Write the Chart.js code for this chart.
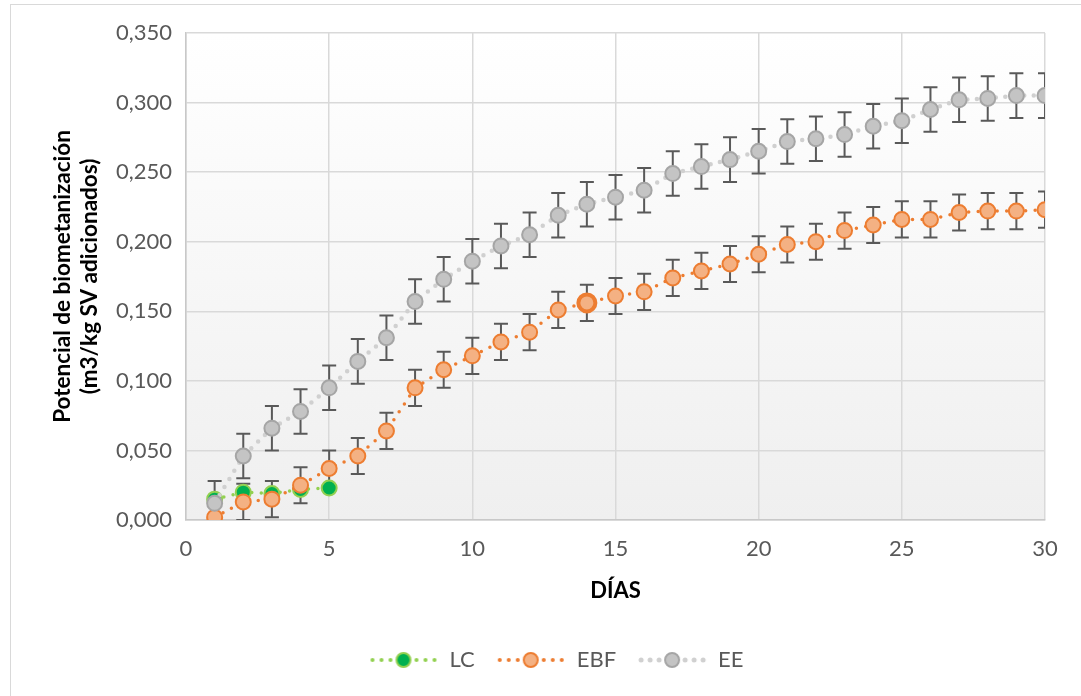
<!DOCTYPE html>
<html><head><meta charset="utf-8">
<script src="https://cdn.jsdelivr.net/npm/chart.js@4.4.1/dist/chart.umd.min.js"></script>
<style>
html,body{margin:0;padding:0;background:#fff;overflow:hidden;width:1081px;height:696px;}
#frame{position:absolute;left:10px;top:4px;width:1092px;height:700px;border:1px solid #d9d9d9;background:#fff;}
canvas{display:block;}
</style></head><body>
<div id="frame"><canvas id="c" width="1092" height="691" style="width:1092px;height:691px"></canvas></div>
<script>
// ---- data ----
const days = [1,2,3,4,5,6,7,8,9,10,11,12,13,14,15,16,17,18,19,20,21,22,23,24,25,26,27,28,29,30];
const lcDays = [1,2,3,4,5];
const lcValues = [0.015,0.020,0.019,0.022,0.023];
const ebfValues = [0.002,0.013,0.015,0.025,0.037,0.046,0.064,0.095,0.108,0.118,0.128,0.135,0.151,0.156,0.161,0.164,0.174,0.179,0.184,0.191,0.198,0.200,0.208,0.212,0.216,0.216,0.221,0.222,0.222,0.223];
const ebfErrors = [0.013,0.013,0.013,0.013,0.013,0.013,0.013,0.013,0.013,0.013,0.013,0.013,0.013,0.013,0.013,0.013,0.013,0.013,0.013,0.013,0.013,0.013,0.013,0.013,0.013,0.013,0.013,0.013,0.013,0.013];
const eeValues = [0.012,0.046,0.066,0.078,0.095,0.114,0.131,0.157,0.173,0.186,0.197,0.205,0.219,0.227,0.232,0.237,0.249,0.254,0.259,0.265,0.272,0.274,0.277,0.283,0.287,0.295,0.302,0.303,0.305,0.305];
const eeErrors = [0.016,0.016,0.016,0.016,0.016,0.016,0.016,0.016,0.016,0.016,0.016,0.016,0.016,0.016,0.016,0.016,0.016,0.016,0.016,0.016,0.016,0.016,0.016,0.016,0.016,0.016,0.016,0.016,0.016,0.016];
const seriesNames = ['LC','EBF','EE'];
const xTitle = 'DÍAS';
const yTitle = ['Potencial de biometanización','(m3/kg SV adicionados)'];
const xMin = 0, xMax = 30, xStep = 5;
const yMin = 0, yMax = 0.35, yStep = 0.05;

const toPts = (xs, ys) => xs.map((x,i)=>({x:x, y:ys[i]}));

// ---- legend images (dotted line + marker) ----
function legendImage(lineColor, fill, border, dotR) {
  const c = document.createElement('canvas');
  c.width = 70; c.height = 20;
  const g = c.getContext('2d');
  g.fillStyle = lineColor;
  [4,13,22,48,57,66].forEach(x=>{ g.beginPath(); g.arc(x,10,dotR,0,Math.PI*2); g.fill(); });
  g.beginPath(); g.arc(35,10,7,0,Math.PI*2);
  g.fillStyle = fill; g.fill();
  g.lineWidth = 2; g.strokeStyle = border; g.stroke();
  return c;
}
const legendImgs = [
  legendImage('#92D050','#00B050','#92D050',2),
  legendImage('#ED7D31','#F4B183','#ED7D31',2),
  legendImage('#D0D0D0','#C4C4C4','#A5A5A5',2.5)
];

// ---- plugins ----
const bgPlugin = {
  id: 'bg',
  beforeDraw(chart) {
    const {ctx, chartArea:a} = chart;
    const gr = ctx.createLinearGradient(0, a.top, 0, a.bottom);
    gr.addColorStop(0, '#ffffff');
    gr.addColorStop(1, '#efefef');
    ctx.save(); ctx.fillStyle = gr; ctx.fillRect(a.left, a.top, a.right-a.left, a.bottom-a.top); ctx.restore();
  }
};
const errPlugin = {
  id: 'errbars',
  beforeDatasetsDraw(chart) {
    const {ctx, chartArea:a, scales:{x, y}} = chart;
    ctx.save();
    ctx.beginPath(); ctx.rect(a.left, a.top, a.right-a.left, a.bottom-a.top); ctx.clip();
    ctx.strokeStyle = '#595959'; ctx.lineWidth = 2;
    chart.data.datasets.forEach(ds => {
      if (!ds.errors) return;
      ds.data.forEach((p, i) => {
        const e = ds.errors[i];
        const px = x.getPixelForValue(p.x);
        const y1 = y.getPixelForValue(p.y + e), y2 = y.getPixelForValue(p.y - e);
        ctx.beginPath();
        ctx.moveTo(px, y1); ctx.lineTo(px, y2);
        ctx.moveTo(px-7, y1); ctx.lineTo(px+7, y1);
        ctx.moveTo(px-7, y2); ctx.lineTo(px+7, y2);
        ctx.stroke();
      });
    });
    ctx.restore();
  }
};

const FONT = 'Lato, "Open Sans", sans-serif';
const lineStyle = {borderWidth:3.5, borderDash:[0,9.5], borderCapStyle:'round', tension:0, pointRadius:7.5, pointHoverRadius:7.5, pointBorderWidth:2, showLine:true};

new Chart(document.getElementById('c'), {
  type: 'line',
  data: {
    datasets: [
      Object.assign({label: seriesNames[0], data: toPts(lcDays, lcValues), borderColor:'#92D050', pointBackgroundColor:'#00B050', pointBorderColor:'#92D050', order:3}, lineStyle),
      Object.assign({label: seriesNames[1], data: toPts(days, ebfValues), errors: ebfErrors, borderColor:'#ED7D31', pointBackgroundColor:'#F4B183', pointBorderColor:'#ED7D31', order:2}, lineStyle,
        {pointBorderWidth: c => c.dataIndex === 13 ? 4 : 2, pointRadius: c => c.dataIndex === 13 ? 8.5 : 7.5}),
      Object.assign({label: seriesNames[2], data: toPts(days, eeValues), errors: eeErrors, borderColor:'#D0D0D0', pointBackgroundColor:'#C4C4C4', pointBorderColor:'#A5A5A5', order:1}, lineStyle, {borderWidth:4.5})
    ]
  },
  options: {
    responsive: false, animation: false, devicePixelRatio: 1,
    layout: {padding: {left:0, right:2, top:28, bottom:15}},
    plugins: {
      tooltip: {enabled:false},
      legend: {
        position: 'bottom',
        labels: {
          usePointStyle: true, pointStyleWidth: 70, padding: 21,
          color: '#595959', font: {family: FONT, size: 22},
          sort: (a,b) => a.datasetIndex - b.datasetIndex,
          generateLabels(chart) {
            const items = Chart.defaults.plugins.legend.labels.generateLabels(chart);
            items.forEach(it => { it.pointStyle = legendImgs[it.datasetIndex]; });
            return items;
          }
        }
      }
    },
    scales: {
      x: {
        type: 'linear', min: xMin, max: xMax,
        afterFit(s) { s.height = 108; },
        ticks: {stepSize: xStep, padding: 16, color:'#595959', font:{family: FONT, size: 22}},
        grid: {color:'#d9d9d9', lineWidth:1.5, drawTicks:false},
        border: {color:'#c8c8c8', width:1.5},
        title: {display:true, text: xTitle, color:'#000', font:{family: FONT, size: 22, weight:'bold'}, padding:{top:0, bottom:24}}
      },
      y: {
        min: yMin, max: yMax,
        afterFit(s) { s.width = 175; },
        ticks: {stepSize: yStep, padding: 14, color:'#595959', font:{family: FONT, size: 22},
          callback: v => v.toFixed(3).replace('.', ',')},
        grid: {color:'#d9d9d9', lineWidth:1.5, drawTicks:false},
        border: {color:'#c8c8c8', width:1.5},
        title: {display:true, text: yTitle, color:'#000', font:{family: FONT, size: 22.5, weight:'bold', lineHeight:1.2}, padding:{top:38, bottom:0}}
      },
      yRightSpace: {
        position: 'right', min: yMin, max: yMax,
        afterFit(s) { s.width = 56; },
        ticks: {display:false}, grid: {display:false}, border: {display:false}
      }
    }
  },
  plugins: [bgPlugin, errPlugin]
});
</script>
</body></html>
